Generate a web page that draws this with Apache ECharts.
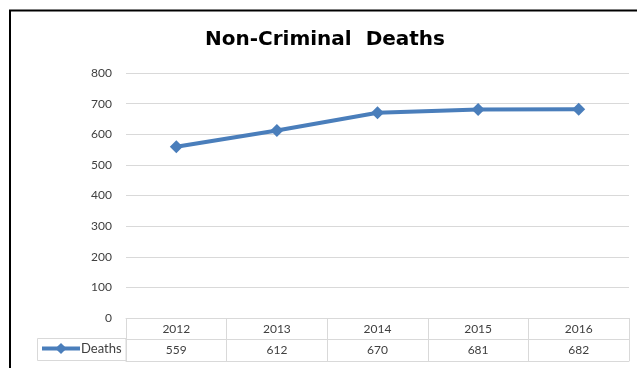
<!DOCTYPE html>
<html>
<head>
<meta charset="utf-8">
<script src="https://cdn.jsdelivr.net/npm/echarts@6/dist/echarts.min.js"></script>
<style>
  html, body { margin: 0; padding: 0; background: #fff; }
  #chart { width: 637px; height: 368px; }
</style>
</head>
<body>
<div id="chart"></div>
<script>
const years = ['2012', '2013', '2014', '2015', '2016'];
const deaths = [559, 612, 670, 681, 682];
const yTicks = { min: 0, max: 800, interval: 100 };

const gridGray = '#d9d9d9';
const textGray = '#404040';
const font = 'Lato';

const option = {
    backgroundColor: '#fff',
    animation: false,
    title: {
        text: 'Non-Criminal  Deaths',
        left: 205,
        top: 30,
        padding: 0,
        textStyle: {
            fontFamily: 'DejaVu Sans',
            fontWeight: 'bold',
            fontSize: 20,
            color: '#000'
        }
    },
    legend: {
        left: 40,
        top: 342,
        padding: 0,
        itemWidth: 38,
        itemHeight: 14,
        itemGap: 0,
        selectedMode: false,
        lineStyle: { width: 4 },
        textStyle: { color: textGray, fontFamily: font, fontSize: 13, padding: [0, 0, 0, -4] },
        data: ['Deaths']
    },
    grid: { left: 126, right: 8, top: 73, bottom: 50, containLabel: false },
    xAxis: [
        {
            type: 'category',
            data: years,
            position: 'bottom',
            axisLine: { lineStyle: { color: gridGray } },
            axisTick: { show: true, length: 43, interval: 0, lineStyle: { color: gridGray } },
            axisLabel: { color: textGray, fontFamily: font, fontSize: 12, margin: 5 }
        },
        {
            type: 'category',
            data: years,
            position: 'bottom',
            offset: 21,
            axisLine: { lineStyle: { color: gridGray } },
            axisTick: { show: false },
            axisLabel: {
                color: textGray, fontFamily: font, fontSize: 12, margin: 5,
                formatter: function (v, i) { return String(deaths[i]); }
            }
        },
        {
            type: 'category',
            data: years,
            position: 'bottom',
            offset: 43,
            axisLine: { lineStyle: { color: gridGray } },
            axisTick: { show: false },
            axisLabel: { show: false }
        }
    ],
    yAxis: {
        type: 'value',
        min: yTicks.min,
        max: yTicks.max,
        interval: yTicks.interval,
        axisLine: { show: false },
        axisTick: { show: false },
        axisLabel: { color: textGray, fontFamily: font, fontSize: 12, margin: 14 },
        splitLine: { lineStyle: { color: gridGray } }
    },
    series: [{
        name: 'Deaths',
        type: 'line',
        data: deaths,
        color: '#4a7ebb',
        symbol: 'diamond',
        symbolSize: 13,
        lineStyle: { width: 4 },
        itemStyle: { color: '#4a7ebb' }
    }],
    graphic: [
        {
            type: 'rect',
            shape: { x: 37.5, y: 338.5, width: 88.5, height: 22 },
            style: { fill: 'none', stroke: gridGray, lineWidth: 1 },
            z: -1
        },
        {
            type: 'rect',
            shape: { x: 10, y: 10.5, width: 700, height: 400 },
            style: { fill: 'none', stroke: '#000', lineWidth: 2 },
            z: 10
        }
    ]
};

const dom = document.getElementById('chart');
const chart = echarts.init(dom);
chart.setOption(option);
</script>
</body>
</html>
